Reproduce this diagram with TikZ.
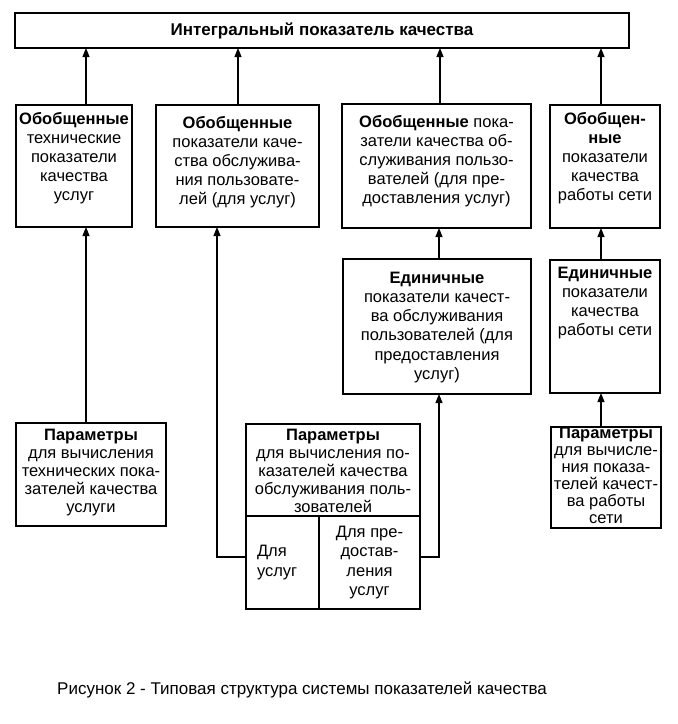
\documentclass[tikz,border=0pt]{standalone}
\usepackage{fontspec}
\setmainfont{Liberation Sans}
\usetikzlibrary{arrows.meta}
\newcommand{\bxt}[4]{\parbox[c][#2][t]{#1}{\vspace*{#3}\centering #4\par}}
\newcommand{\bxc}[3]{\parbox[c][#2][c]{#1}{#3\par}}
\begin{document}
\begin{tikzpicture}[x=1pt,y=-1pt,
  box/.style={draw, line width=1.3pt, inner xsep=2pt, inner ysep=0pt, outer sep=0pt, anchor=north west, font=\fontsize{16.5}{19.2}\selectfont},
  arr/.style={line width=1.1pt, -{Triangle[width=7pt,length=9pt]}},
  ln/.style={line width=1pt}]
\useasboundingbox (0,0) rectangle (678,724);
\node[box, minimum width=614pt, minimum height=35pt, font=\bfseries\fontsize{17}{19}\selectfont] (top) at (15,13) {Интегральный показатель качества};
% row 2
\node[box] (b1) at (16,105) {\bxt{112pt}{122pt}{7pt}{\textbf{Обобщенные}\\ технические\\ показатели\\ качества\\ услуг}};
\node[box] (b2) at (156,105) {\bxt{159pt}{122pt}{11pt}{\textbf{Обобщенные}\\ показатели каче-\\ ства обслужива-\\ ния пользовате-\\ лей (для услуг)}};
\node[box] (b3) at (342,104) {\bxt{185pt}{124pt}{11pt}{\textbf{Обобщенные} пока-\\ затели качества об-\\ служивания пользо-\\ вателей (для пре-\\ доставления услуг)}};
\node[box] (b4) at (550,105) {\bxt{106pt}{123pt}{7pt}{\textbf{Обобщен-}\\ \textbf{ные}\\ показатели\\ качества\\ работы сети}};
% row 3
\node[box] (b5) at (343,259) {\bxt{184pt}{135pt}{13pt}{\textbf{Единичные}\\ показатели качест-\\ ва обслуживания\\ пользователей (для\\ предоставления\\ услуг)}};
\node[box] (b6) at (550,260) {\bxt{106pt}{133pt}{7pt}{\textbf{Единичные}\\ показатели\\ качества\\ работы сети}};
% row 4
\node[box, font=\fontsize{16.5}{18}\selectfont] (b7) at (16,423) {\bxt{146pt}{103pt}{6pt}{\textbf{Параметры}\\ для вычисления\\ технических пока-\\ зателей качества\\ услуги}};
\node[box, font=\fontsize{16.5}{18}\selectfont] (b8a) at (246,424) {\bxt{170pt}{92pt}{5pt}{\textbf{Параметры}\\ для вычисления по-\\ казателей качества\\ обслуживания поль-\\ зователей}};
\node[box, inner xsep=0pt] (b8l) at (246,516) {\bxc{73pt}{93pt}{\hspace*{11pt}Для\\ \hspace*{11pt}услуг}};
\node[box] (b8r) at (319,516) {\bxc{97pt}{93pt}{\centering Для пре-\\ достав-\\ ления\\ услуг}};
\node[box, font=\fontsize{16.5}{17}\selectfont] (b9) at (551,427) {\bxt{106pt}{101pt}{0pt}{\textbf{Параметры}\\ для вычисле-\\ ния показа-\\ телей качест-\\ ва работы\\ сети}};
% caption
\node[font=\fontsize{17}{19}\selectfont] (cap) at (302,690) {Рисунок 2 - Типовая структура системы показателей качества};
% connectors
\path ([xshift=12pt]b1.north) coordinate (s1)
      ([xshift=0.5pt]b2.north) coordinate (s2)
      ([xshift=3.5pt]b3.north) coordinate (s3)
      ([xshift=-4pt]b4.north) coordinate (s4)
      ([xshift=-5pt]b7.north) coordinate (s7)
      ([xshift=2pt]b5.north) coordinate (s5)
      ([xshift=-4pt]b6.north) coordinate (s6)
      ([xshift=-5pt]b9.north) coordinate (s9)
      ([xshift=-20.5pt]b2.south) coordinate (t2)
      ([xshift=2pt]b5.south) coordinate (t5)
      ([yshift=5.5pt]b8l.west) coordinate (l8)
      ([yshift=5.5pt]b8r.east) coordinate (r8);
\draw[arr] (s1) -- (s1 |- top.south);
\draw[arr] (s2) -- (s2 |- top.south);
\draw[arr] (s3) -- (s3 |- top.south);
\draw[arr] (s4) -- (s4 |- top.south);
\draw[arr] (s7) -- (s7 |- b1.south);
\draw[arr] (s5) -- (s5 |- b3.south);
\draw[arr] (s6) -- (s6 |- b4.south);
\draw[arr] (s9) -- (s9 |- b6.south);
\draw[arr] (l8) -| (t2);
\draw[arr] (r8) -| (t5);
\end{tikzpicture}
\end{document}
